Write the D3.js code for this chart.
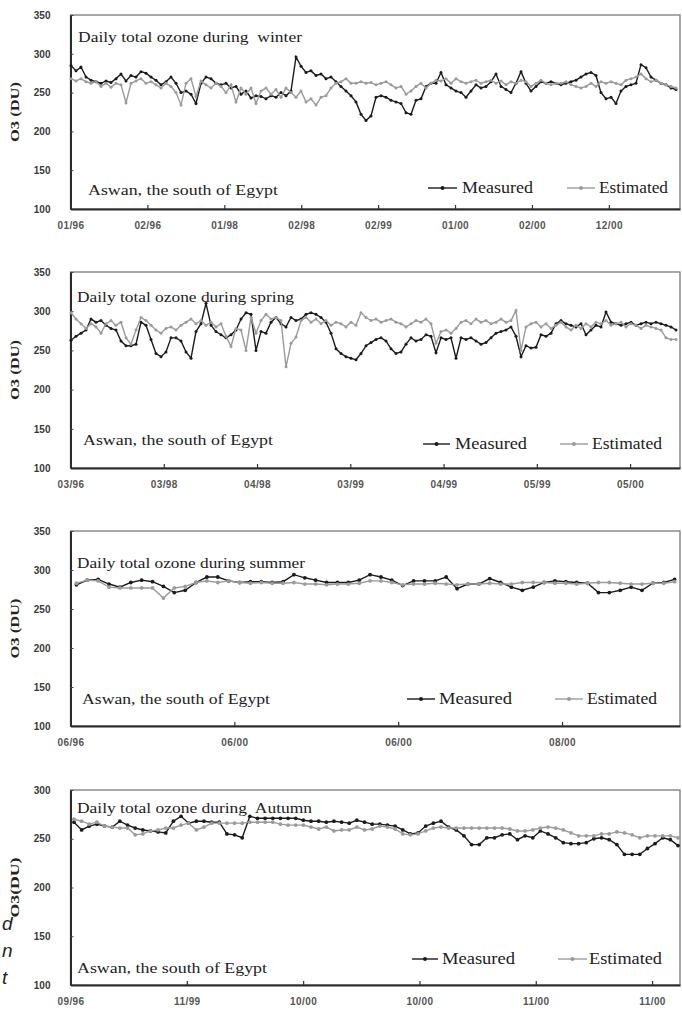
<!DOCTYPE html>
<html><head><meta charset="utf-8">
<script src="https://cdn.jsdelivr.net/npm/d3@7/dist/d3.min.js"></script>
<style>body{margin:0;background:#fff;} svg{display:block;} text.pre{white-space:pre;}</style>
</head><body>
<svg id="chart" width="682" height="1015"></svg>
<script>
// ---------- tick labels ----------
const winterTicks = ["01/96","02/96","01/98","02/98","02/99","01/00","02/00","12/00"];
const springTicks = ["03/96","03/98","04/98","03/99","04/99","05/99","05/00"];
const summerTicks = ["06/96","06/00","06/00","08/00"];
const autumnTicks = ["09/96","11/99","10/00","10/00","11/00","11/00"];
const yTicks350 = [100,150,200,250,300,350];
const yTicks300 = [100,150,200,250,300];

// ---------- series (DU) ----------
const winterMeasured = [285,278,283,270,266,264,262,265,263,268,
 274,265,272,270,277,275,270,266,260,264,
 270,262,250,252,248,236,262,270,268,262,
 260,262,256,258,248,252,243,246,245,242,
 246,244,250,246,252,296,284,276,278,272,
 274,268,270,264,258,252,246,238,222,214,
 220,244,246,244,240,238,236,224,222,240,
 242,258,262,262,276,260,256,252,250,244,
 252,260,256,258,264,274,258,254,250,262,
 277,262,252,258,264,262,264,262,260,262,
 264,266,270,274,276,272,250,242,244,236,
 252,258,260,262,286,282,270,266,262,260,
 256,254];
const winterEstimated = [268,265,268,264,262,264,258,262,257,262,
 260,237,262,265,268,262,264,260,256,262,
 258,250,234,262,268,245,265,260,256,262,
 258,250,260,238,256,248,256,236,252,256,
 248,254,244,256,250,244,252,238,242,234,
 244,246,256,262,264,268,262,262,264,262,
 263,260,262,264,260,256,258,248,252,258,
 262,256,262,266,265,268,262,268,264,262,
 264,266,262,264,266,262,265,260,264,262,
 266,264,258,262,266,262,260,262,262,264,
 260,258,256,258,262,258,264,262,264,262,
 260,266,268,270,274,268,264,266,262,260,
 258,256];
const springMeasured = [263,268,272,276,290,286,288,282,278,276,
 262,256,256,258,286,282,264,246,242,248,
 266,266,262,248,240,274,284,310,282,274,
 270,266,270,276,290,298,296,250,274,272,
 286,292,284,280,292,288,290,296,298,296,
 292,286,272,252,246,242,240,238,246,256,
 260,264,266,262,252,246,248,258,266,262,
 264,270,268,247,266,264,266,240,266,264,
 266,262,258,260,266,272,274,276,280,268,
 242,256,253,254,270,268,272,284,288,284,
 282,280,284,270,276,282,280,299,286,284,
 282,284,286,282,284,286,284,286,284,282,
 280,276];
const springEstimated = [298,290,284,278,284,280,272,284,288,282,
 286,266,258,276,292,288,282,276,272,278,
 280,276,282,286,290,284,288,282,286,280,
 284,268,255,278,276,250,292,272,288,296,
 290,292,288,229,259,267,288,292,286,290,
 284,288,282,286,284,280,286,282,298,292,
 288,290,286,288,290,286,284,280,284,288,
 286,290,284,259,274,276,272,278,286,288,
 284,290,286,288,284,286,290,286,288,301,
 250,280,284,286,280,284,278,282,286,280,
 276,282,278,284,280,286,284,288,282,284,
 286,280,284,282,278,282,280,278,276,266,
 264,264];
const summerMeasured = [281,287,288,282,278,284,287,285,279,271,
 274,284,291,291,286,284,285,285,284,285,
 294,290,287,284,284,284,287,294,291,287,
 280,286,286,286,291,276,282,282,289,284,
 278,274,278,284,286,285,284,283,271,271,
 274,278,274,283,284,288];
const summerEstimated = [283,287,286,278,277,277,277,277,264,277,
 279,284,286,284,286,284,283,284,283,283,
 284,282,282,281,282,282,283,286,286,284,
 281,282,282,283,282,281,282,282,283,282,
 282,284,284,284,283,283,282,283,284,284,
 283,282,282,283,283,285];
const autumnMeasured = [267,259,263,265,263,262,268,264,261,259,
 258,257,256,268,273,266,268,268,267,267,
 255,254,251,273,271,271,271,271,271,271,
 269,268,268,267,268,267,266,269,267,265,
 265,264,263,259,255,256,263,266,268,262,
 259,253,244,244,251,251,254,255,249,253,
 251,258,255,251,246,245,245,246,250,251,
 249,244,234,234,234,240,245,251,249,243];
const autumnEstimated = [270,268,265,267,263,262,261,261,254,255,
 258,259,261,261,264,266,259,262,266,266,
 266,266,266,267,267,267,267,265,264,264,
 264,262,260,262,258,259,259,262,259,260,
 263,262,260,255,254,255,258,261,262,261,
 261,261,261,261,261,261,261,260,258,258,
 259,261,262,261,259,256,253,253,253,255,
 255,257,256,254,251,253,253,253,253,251];

const seriesNames = ["Measured","Estimated"];
const placeText = "Aswan, the south of Egypt";

// ---------- layout ----------
const X0 = 70.5, X1 = 680;
const BLACK = "#1b1b1b", GRAY = "#9b9b9b";
const panels = [
  {measured:winterMeasured, estimated:winterEstimated, ticks:winterTicks, span:7.925, yTicks:yTicks350,
   top:15, bottom:209, px:[71,676], r:1.5, title:"Daily total ozone during  winter", yLabel:"O3 (DU)",
   titleBox:[78,42,224], placeBox:[88,195,190], leg:{m:[428,457,462,71], e:[567,595,599,69], base:193}},
  {measured:springMeasured, estimated:springEstimated, ticks:springTicks, span:6.535, yTicks:yTicks350,
   top:272, bottom:468, px:[71,676], r:1.5, title:"Daily total ozone during spring", yLabel:"O3 (DU)",
   titleBox:[77,302,217], placeBox:[83,445,190], leg:{m:[423,450,455,72], e:[560,588,592,70], base:449}},
  {measured:summerMeasured, estimated:summerEstimated, ticks:summerTicks, span:3.72, yTicks:yTicks350,
   top:531, bottom:726, px:[76.4,674.6], r:1.9, title:"Daily total ozone during summer", yLabel:"O3 (DU)",
   titleBox:[77,568,228], placeBox:[82,704,188], leg:{m:[407,435,439,73], e:[555,583,587,70], base:704}},
  {measured:autumnMeasured, estimated:autumnEstimated, ticks:autumnTicks, span:5.24, yTicks:yTicks300,
   top:790, bottom:985, px:[74,678], r:1.9, title:"Daily total ozone during  Autumn", yLabel:"O3(DU)",
   titleBox:[77,813,235], placeBox:[77,973,190], leg:{m:[412,438,442,73], e:[558,587,589,73], base:964}}
];

const svg = d3.select("#chart");
const serif = "'Liberation Serif', 'Times New Roman', serif";
const sans = "'Liberation Sans', Arial, sans-serif";

panels.forEach(p => {
  const g = svg.append("g");
  const yMax = d3.max(p.yTicks);
  const y = d3.scaleLinear().domain([100, yMax]).range([p.bottom, p.top]);
  const x = d3.scaleLinear().domain([0, p.measured.length - 1]).range(p.px);
  const tx = d3.scaleLinear().domain([0, p.span]).range([X0, X1]);

  // frame
  g.append("rect").attr("x", X0).attr("y", p.top).attr("width", X1 - X0).attr("height", p.bottom - p.top)
    .attr("fill", "none").attr("stroke", "#7a7a7a").attr("stroke-width", 1.3);

  // y axis
  const ya = g.append("g").attr("transform", `translate(${X0},0)`)
    .call(d3.axisLeft(y).tickValues(p.yTicks).tickFormat(d3.format("d")).tickSizeInner(-3).tickSizeOuter(0).tickPadding(20));
  ya.select(".domain").attr("stroke", "#2a2a2a").attr("stroke-width", 2);
  ya.selectAll(".tick line").attr("stroke", "#444");
  ya.selectAll("text").attr("font-family", sans).attr("font-weight", "bold")
    .attr("font-size", 10).attr("fill", "#3a3a3a");

  // x axis
  const xa = g.append("g").attr("transform", `translate(0,${p.bottom})`)
    .call(d3.axisBottom(tx).tickValues(d3.range(p.ticks.length)).tickFormat(i => p.ticks[i])
      .tickSizeInner(-4).tickSizeOuter(0).tickPadding(13));
  xa.select(".domain").attr("stroke", "#2a2a2a").attr("stroke-width", 2);
  xa.selectAll(".tick line").attr("stroke", "#333").attr("stroke-width", 1.2);
  xa.selectAll("text").attr("font-family", sans).attr("font-weight", "bold")
    .attr("font-size", 10).attr("fill", "#555").attr("letter-spacing", 0.4);

  // y label
  g.append("text").attr("transform", `translate(19,${(p.top + p.bottom) / 2}) rotate(-90)`)
    .attr("text-anchor", "middle").attr("font-family", serif)
    .attr("font-weight", "bold").attr("font-size", 13).attr("fill", "#222")
    .attr("textLength", 60).attr("lengthAdjust", "spacingAndGlyphs").text(p.yLabel);

  // series
  const line = d3.line().x((d, i) => x(i)).y(d => y(d));
  [[p.measured, BLACK], [p.estimated, GRAY]].forEach(([data, col]) => {
    g.append("path").datum(data).attr("d", line).attr("fill", "none").attr("stroke", col).attr("stroke-width", 1.4);
    g.append("g").selectAll("circle").data(data).join("circle")
      .attr("cx", (d, i) => x(i)).attr("cy", d => y(d)).attr("r", p.r).attr("fill", col);
  });

  // texts
  g.append("text").attr("class", "pre").attr("x", p.titleBox[0]).attr("y", p.titleBox[1]).attr("font-family", serif)
    .attr("font-size", 15).attr("fill", "#222").attr("textLength", p.titleBox[2]).attr("lengthAdjust", "spacingAndGlyphs")
    .text(p.title);
  g.append("text").attr("x", p.placeBox[0]).attr("y", p.placeBox[1]).attr("font-family", serif)
    .attr("font-size", 15).attr("fill", "#222").attr("textLength", p.placeBox[2]).attr("lengthAdjust", "spacingAndGlyphs")
    .text(placeText);

  // legend
  [[p.leg.m, BLACK, seriesNames[0]], [p.leg.e, GRAY, seriesNames[1]]].forEach(([L, col, name]) => {
    const ly = p.leg.base - 5;
    g.append("line").attr("x1", L[0]).attr("x2", L[1]).attr("y1", ly).attr("y2", ly)
      .attr("stroke", col).attr("stroke-width", 1.4);
    g.append("circle").attr("cx", (L[0] + L[1]) / 2).attr("cy", ly).attr("r", 2).attr("fill", col);
    g.append("text").attr("x", L[2]).attr("y", p.leg.base).attr("font-family", serif).attr("font-size", 16)
      .attr("fill", "#222").attr("textLength", L[3]).attr("lengthAdjust", "spacingAndGlyphs").text(name);
  });
});

// fragments of the surrounding page text at the far left
const fragments = ["d", "n", "t"];
svg.append("g").selectAll("text").data(fragments).join("text")
  .attr("x", 2).attr("y", (d, i) => 930 + i * 27)
  .attr("font-family", sans).attr("font-style", "italic")
  .attr("font-size", 19).attr("fill", "#222").text(d => d);
</script>
</body></html>
